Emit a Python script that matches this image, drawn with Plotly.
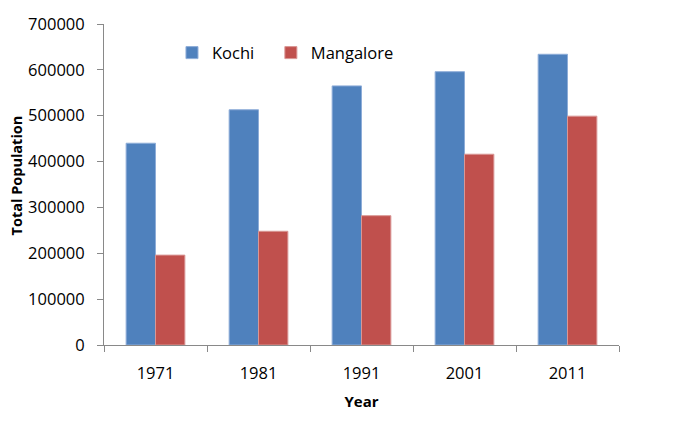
import plotly.graph_objects as go

years = ["1971", "1981", "1991", "2001", "2011"]
kochi = [440000, 513000, 565000, 596000, 634000]
mangalore = [196000, 248000, 282000, 416000, 499000]
y_ticks = [0, 100000, 200000, 300000, 400000, 500000, 600000, 700000]

FONT = "Open Sans"

fig = go.Figure()
fig.add_trace(go.Bar(x=years, y=kochi, name="Kochi", legend="legend",
                     marker=dict(color="#4F81BD", line=dict(color="#8EADD8", width=1))))
fig.add_trace(go.Bar(x=years, y=mangalore, name="Mangalore", legend="legend2",
                     marker=dict(color="#C0504D", line=dict(color="#D99795", width=1))))

leg_common = dict(orientation="h", y=0.91, xanchor="left", yanchor="middle",
                  font=dict(size=16.5), bgcolor="rgba(0,0,0,0)")

fig.update_layout(
    width=685, height=423,
    margin=dict(l=96, r=74, t=16, b=86, autoexpand=False),
    paper_bgcolor="white", plot_bgcolor="white",
    barmode="group", bargap=0.43, bargroupgap=0,
    font=dict(family=FONT, size=16.5, color="black"),
    showlegend=True,
    legend=dict(x=0.132, **leg_common),
    legend2=dict(x=0.324, **leg_common),
    xaxis=dict(
        type="category", showline=True, linecolor="#898989", linewidth=1,
        ticks="outside", tickson="boundaries", ticklen=6, tickcolor="#898989",
        ticklabelstandoff=13, automargin=False,
        title=dict(text="<b>Year</b>", font=dict(size=15), standoff=13),
        showgrid=False,
    ),
    yaxis=dict(
        range=[0, 700000], tickvals=y_ticks, ticktext=[str(v) for v in y_ticks],
        showline=True, linecolor="#898989", linewidth=1,
        ticks="outside", ticklen=6, tickcolor="#898989",
        ticklabelstandoff=9, automargin=False, showgrid=False, zeroline=False,
    ),
    annotations=[dict(
        text="<b>Total Population</b>", xref="paper", yref="paper",
        x=-0.169, y=0.528, xanchor="center", yanchor="middle",
        textangle=-90, showarrow=False, font=dict(size=14.5),
    )],
)

fig.write_html("out.html")
